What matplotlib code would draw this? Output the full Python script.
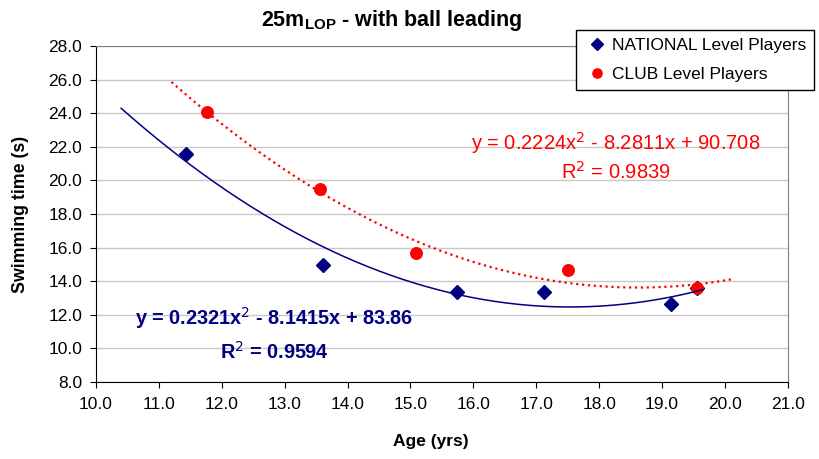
import numpy as np
import matplotlib.pyplot as plt

plt.rcParams['font.family'] = ['Liberation Sans', 'DejaVu Sans']

# national level players
nat_age = [11.43, 13.61, 15.74, 17.12, 19.14, 19.56]
nat_time = [21.57, 14.95, 13.38, 13.38, 12.62, 13.6]
# club level players
club_age = [11.77, 13.56, 15.09, 17.51, 19.56]
club_time = [24.09, 19.47, 15.66, 14.67, 13.58]

# trendline coefficients shown on the chart
nat_coef = [0.2321, -8.1415, 83.86]
club_coef = [0.2224, -8.2811, 90.708]
nat_range = [10.4, 19.65]
club_range = [11.2, 20.1]

navy = '#000080'
red = '#ff0000'

fig = plt.figure(figsize=(8.19, 4.59), dpi=100)
ax = fig.add_axes([0.1172, 0.1678, 0.8448, 0.732])

xn = np.linspace(nat_range[0], nat_range[1], 200)
xc = np.linspace(club_range[0], club_range[1], 200)

ax.plot(nat_age, nat_time, 'D', color=navy, ms=7.2, zorder=3, label='NATIONAL Level Players')
ax.plot(club_age, club_time, 'o', color=red, ms=8.3, zorder=4, label='CLUB Level Players')
ax.plot(xn, np.polyval(nat_coef, xn), '-', color=navy, lw=1.1, zorder=5)
ax.plot(xc, np.polyval(club_coef, xc), ':', color=red, lw=1.6, zorder=5)

ax.set_xlim(10, 21)
ax.set_ylim(8, 28)
ax.set_xticks(np.arange(10, 21.1, 1))
ax.set_yticks(np.arange(8, 28.1, 2))
ax.xaxis.set_major_formatter(plt.FormatStrFormatter('%.1f'))
ax.yaxis.set_major_formatter(plt.FormatStrFormatter('%.1f'))
ax.tick_params(direction='out', length=4, labelsize=12.5, color='black')
ax.tick_params(axis='x', pad=7)
ax.tick_params(axis='y', pad=6)
ax.yaxis.grid(True, color='#c8c8c8', lw=1)
ax.set_axisbelow(True)
for s in ['top', 'right']:
    ax.spines[s].set_color('#808080')
ax.spines['left'].set_color('black')
ax.spines['bottom'].set_color('black')

ax.set_xlabel('Age (yrs)', fontsize=12.5, fontweight='bold', labelpad=16)
ax.xaxis.label.set_x(0.484)
ax.set_ylabel('Swimming time (s)', fontsize=12.8, fontweight='bold', labelpad=14)

fig.text(0.478, 0.955, r'25m$_{\mathregular{LOP}}$ - with ball leading', ha='center', va='center',
         fontsize=15.5, fontweight='bold')

ax.text(18.27, 22.2, 'y = 0.2224x$^2$ - 8.2811x + 90.708', color=red, fontsize=14.5, ha='center', va='center')
ax.text(18.27, 20.5, 'R$^2$ = 0.9839', color=red, fontsize=14.5, ha='center', va='center')
ax.text(12.83, 11.8, 'y = 0.2321x$^{2}$ - 8.1415x + 83.86', color=navy, fontsize=14.3, fontweight='bold',
        ha='center', va='center')
ax.text(12.83, 9.8, 'R$^2$ = 0.9594', color=navy, fontsize=14.3, fontweight='bold', ha='center', va='center')

leg = fig.legend(loc='upper left', bbox_to_anchor=(576 / 819, 1 - 30 / 459), fontsize=12.5,
                 handlelength=1.5, handletextpad=0.1, borderpad=0.45, labelspacing=0.8,
                 borderaxespad=0, fancybox=False, framealpha=1, edgecolor='black', markerscale=0.8)
leg.get_frame().set_linewidth(1)

fig.savefig('out.png', dpi=100)
